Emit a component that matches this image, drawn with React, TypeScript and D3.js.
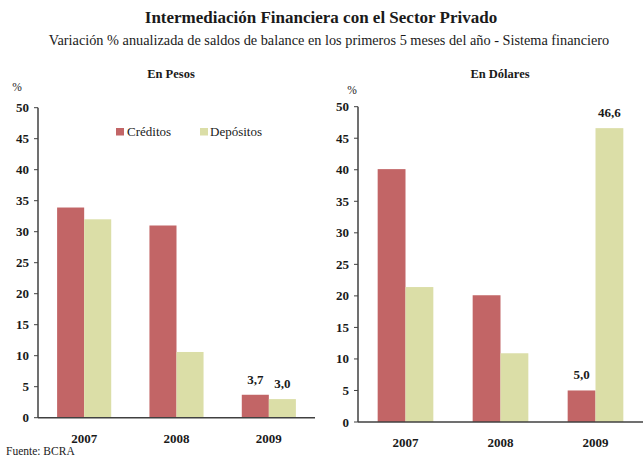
import React from "react";
import * as d3 from "d3";

const years = ["2007", "2008", "2009"];
const pesosCreditos = [33.9, 31.0, 3.7];
const pesosDepositos = [32.0, 10.6, 3.0];
const dolaresCreditos = [40.1, 20.1, 5.0];
const dolaresDepositos = [21.4, 10.9, 46.6];
const yTicks = [0, 5, 10, 15, 20, 25, 30, 35, 40, 45, 50];
const seriesNames = ["Créditos", "Depósitos"];
const pesosLabels = [null, null, ["3,7", "3,0"]];
const dolaresLabels = [null, null, ["5,0", "46,6"]];

const C_CRED = "#C26566";
const C_DEP = "#DBDEA7";
const FONT = "Liberation Serif, Times New Roman, serif";
const ts = { fontFamily: FONT };

type PanelProps = {
  x0: number; x1: number; yTop: number; yBottom: number;
  cred: number[]; dep: number[]; labels: (string[] | null)[];
  title: string; titleX: number; titleY: number; pctX: number; pctY: number;
  tickLabelX: number; yearY: number; legend?: boolean;
};

function Panel(p: PanelProps) {
  const y = d3.scaleLinear().domain([0, 50]).range([p.yBottom, p.yTop]);
  const x = d3.scaleBand().domain(years).range([p.x0, p.x1]).paddingInner(0).paddingOuter(0);
  const bw = x.bandwidth() * 0.293;
  return (
    <g>
      <text style={ts} x={p.titleX} y={p.titleY} textAnchor="middle" fontWeight="bold" fontSize={12.5}>{p.title}</text>
      <text style={ts} x={p.pctX} y={p.pctY} textAnchor="middle" fontSize={11.5}>%</text>
      {yTicks.map((t) => (
        <g key={t}>
          <line x1={p.x0 - 4} x2={p.x0} y1={y(t)} y2={y(t)} stroke="#404040" strokeWidth={1} />
          <text style={ts} x={p.tickLabelX} y={y(t) + 4.5} textAnchor="end" fontWeight="bold" fontSize={13}>{t}</text>
        </g>
      ))}
      {years.map((yr, i) => {
        const c = x(yr)! + x.bandwidth() / 2;
        const lab = p.labels[i];
        return (
          <g key={yr}>
            <rect x={c - bw} y={y(p.cred[i])} width={bw} height={y(0) - y(p.cred[i])} fill={C_CRED} />
            <rect x={c} y={y(p.dep[i])} width={bw} height={y(0) - y(p.dep[i])} fill={C_DEP} />
            {lab && (
              <>
                <text style={ts} x={c - bw / 2} y={y(p.cred[i]) - 11} textAnchor="middle" fontWeight="bold" fontSize={13}>{lab[0]}</text>
                <text style={ts} x={c + bw / 2} y={y(p.dep[i]) - 11} textAnchor="middle" fontWeight="bold" fontSize={13}>{lab[1]}</text>
              </>
            )}
            <text style={ts} x={c} y={p.yearY} textAnchor="middle" fontWeight="bold" fontSize={13}>{yr}</text>
          </g>
        );
      })}
      <line x1={p.x0} x2={p.x0} y1={p.yTop} y2={p.yBottom} stroke="#404040" strokeWidth={1.5} />
      <line x1={p.x0} x2={p.x1} y1={p.yBottom} y2={p.yBottom} stroke="#404040" strokeWidth={1.5} />
      {p.legend && (
        <g>
          <rect x={116} y={128} width={8} height={7.5} fill={C_CRED} />
          <text style={ts} x={127} y={135.5} fontSize={13}>{seriesNames[0]}</text>
          <rect x={200} y={128} width={8} height={7.5} fill={C_DEP} />
          <text style={ts} x={210} y={135.5} fontSize={13}>{seriesNames[1]}</text>
        </g>
      )}
    </g>
  );
}

export default function App() {
  return (
    <svg width={643} height={457} style={{ position: "absolute", left: 0, top: 0, background: "#fff" }} fill="#1a1a1a">
      <rect width={643} height={457} fill="#fff" />
      <text style={ts} x={321} y={23} textAnchor="middle" fontWeight="bold" fontSize={17}>Intermediación Financiera con el Sector Privado</text>
      <text style={ts} x={329} y={45} textAnchor="middle" fontSize={14.3}>Variación % anualizada de saldos de balance en los primeros 5 meses del año - Sistema financiero</text>
      <Panel x0={38} x1={315} yTop={107.7} yBottom={417.7} cred={pesosCreditos} dep={pesosDepositos} labels={pesosLabels}
        title="En Pesos" titleX={171} titleY={78} pctX={17} pctY={91} tickLabelX={29} yearY={443} legend />
      <Panel x0={358} x1={643} yTop={106.7} yBottom={422} cred={dolaresCreditos} dep={dolaresDepositos} labels={dolaresLabels}
        title="En Dólares" titleX={500} titleY={78} pctX={352} pctY={94} tickLabelX={349} yearY={447} />
      <text style={ts} x={6} y={455} fontSize={11.5}>Fuente: BCRA</text>
    </svg>
  );
}
